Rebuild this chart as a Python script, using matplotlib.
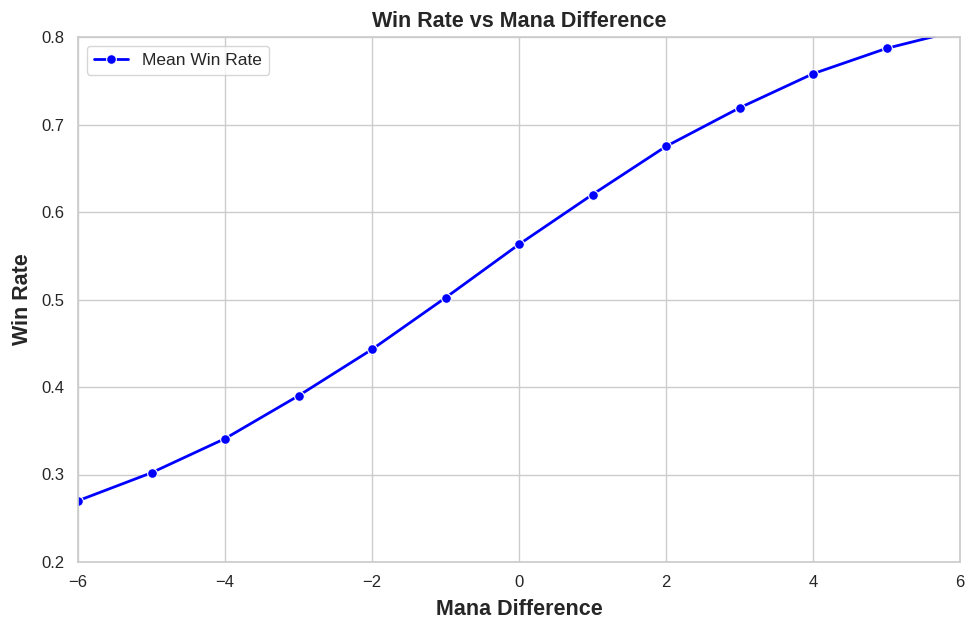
import numpy as np
import matplotlib
matplotlib.use("Agg")
import matplotlib.pyplot as plt
import seaborn as sns

# mean win rate per mana difference
mana_diff = [-6, -5, -4, -3, -2, -1, 0, 1, 2, 3, 4, 5, 6]
win_rate = [0.270, 0.302, 0.341, 0.390, 0.443, 0.502, 0.563,
            0.620, 0.675, 0.719, 0.758, 0.787, 0.808]

sns.set_theme(style="whitegrid")
plt.rcParams['font.family'] = ['Liberation Sans', 'DejaVu Sans']

fig = plt.figure(figsize=(9.75, 6.31), dpi=100)
ax = fig.add_axes([78 / 975, 1 - 562 / 631, (960 - 78) / 975, (562 - 37) / 631])

ax.plot(mana_diff, win_rate, color="blue", marker="o", markersize=7,
        markeredgecolor="white", markeredgewidth=0.8,
        linewidth=2, label="Mean Win Rate")

ax.set_xlim(-6, 6)
ax.set_ylim(0.2, 0.8)
ax.set_xticks([-6, -4, -2, 0, 2, 4, 6])
ax.set_title("Win Rate vs Mana Difference", fontsize=15.5, fontweight="bold", pad=7)
ax.set_xlabel("Mana Difference", fontsize=15.5, fontweight="bold", labelpad=6)
ax.set_ylabel("Win Rate", fontsize=15.5, fontweight="bold", labelpad=6)
ax.tick_params(labelsize=12)
ax.legend(loc="upper left", fontsize=12.5)

fig.savefig("out.png", dpi=100)
